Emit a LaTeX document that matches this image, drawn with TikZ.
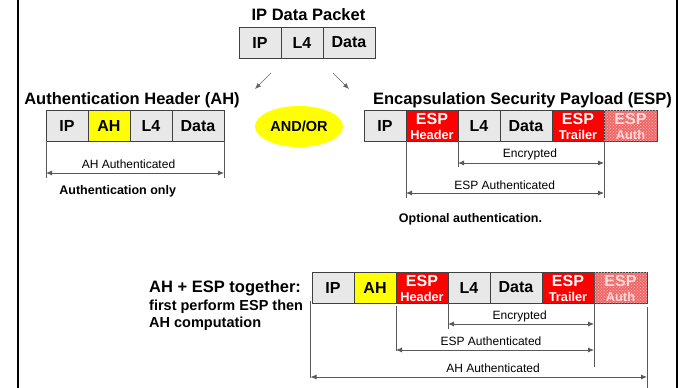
\documentclass[tikz,border=0pt]{standalone}
\usepackage{fontspec}
\setmainfont{Liberation Sans}
\usetikzlibrary{arrows.meta,patterns,shapes.geometric}
\definecolor{cellgray}{HTML}{E8E8E8}
\definecolor{edgegray}{HTML}{404040}
\definecolor{espred}{HTML}{FF0000}
\definecolor{authred}{HTML}{F06868}
\definecolor{authtxt}{HTML}{FFD8D8}
\definecolor{ahyellow}{HTML}{FFFF00}
\begin{document}
\begin{tikzpicture}[x=1pt,y=-1pt,
  cell/.style={draw=edgegray, line width=0.9pt, fill=cellgray, minimum height=31pt,
    inner sep=0pt, outer sep=0pt, anchor=west, font=\bfseries\fontsize{16}{17}\selectfont},
  ahcell/.style={cell, fill=ahyellow},
  redcell/.style={cell, fill=espred},
  authcell/.style={cell, fill=authred, postaction={pattern=crosshatch dots, pattern color=white!60!authred}},
  redtop/.style={anchor=base, inner sep=0pt, text=white, font=\bfseries\fontsize{16}{17}\selectfont},
  redbot/.style={anchor=base, inner sep=0pt, text=white, font=\bfseries\fontsize{12.8}{14}\selectfont},
  authtop/.style={redtop, text=authtxt},
  authbot/.style={redbot, text=authtxt},
  titletxt/.style={anchor=base, inner sep=0pt, font=\bfseries\fontsize{16.5}{18}\selectfont},
  notetxt/.style={anchor=base, inner sep=0pt, font=\bfseries\fontsize{12.5}{14}\selectfont},
  sidetxt/.style={anchor=base west, inner sep=0pt, font=\bfseries\fontsize{14.5}{16}\selectfont},
  labtxt/.style={anchor=base, inner sep=0pt, font=\fontsize{12}{14}\selectfont},
  brk/.style={draw=black!65, line width=0.8pt},
  dim/.style={brk, {Latex[length=6pt,width=5pt]}-{Latex[length=6pt,width=5pt]}},
  arr/.style={draw=black!60, line width=0.6pt, -{Latex[length=6pt,width=5pt]}}
]
\useasboundingbox (0,0) rectangle (680,388);
% frame lines
\draw[line width=2pt] (18,0) -- (18,388);
\draw[line width=2pt] (677,0) -- (677,388);

% ---- top packet
\node[titletxt] (ttl) at (308.5,20) {IP Data Packet};
\node[cell, minimum width=42pt] (tip) at (239,42.5) {IP};
\node[cell, minimum width=42pt] (tl4) at (281,42.5) {L4};
\node[cell, minimum width=52pt] (tdat) at (323,42.5) {Data};
\coordinate (a1s) at (271,73); \coordinate (a1e) at (255,89);
\coordinate (a2s) at (333,73); \coordinate (a2e) at (349,89);
\draw[arr] (a1s) -- (a1e);
\draw[arr] (a2s) -- (a2e);

% ---- AH
\node[titletxt] (ahttl) at (132,104.3) {Authentication Header (AH)};
\node[cell, minimum width=42pt] (aip) at (46,125.75) {IP};
\node[ahcell, minimum width=42pt] (aah) at (88,125.75) {AH};
\node[cell, minimum width=42pt] (al4) at (130,125.75) {L4};
\node[cell, minimum width=52pt] (adat) at (172,125.75) {Data};
\coordinate (ahl) at (46,178); \coordinate (ahr) at (224,178);
\draw[brk] (aip.south west) -- (ahl);
\draw[brk] (adat.south east) -- (ahr);
\coordinate (ahd1) at (46,173); \coordinate (ahd2) at (224,173);
\draw[dim] (ahd1) -- (ahd2);
\node[labtxt] (ahlab) at (128.5,168.3) {AH Authenticated};
\node[notetxt] (ahnote) at (117.7,194) {Authentication only};

% ---- AND/OR
\node[ellipse, fill=ahyellow, minimum width=88pt, minimum height=41pt, inner sep=0pt,
  font=\bfseries\fontsize{14.5}{16}\selectfont] (andor) at (299,126.5) {AND/OR};

% ---- ESP
\node[titletxt] (espttl) at (522.5,104.3) {Encapsulation Security Payload (ESP)};
\node[cell, minimum width=42pt] (eip) at (364,125.75) {IP};
\node[redcell, minimum width=52pt] (ehd) at (406,125.75) {};
\node[cell, minimum width=42pt] (el4) at (458,125.75) {L4};
\node[cell, minimum width=52pt] (edat) at (500,125.75) {Data};
\node[redcell, minimum width=52pt] (etr) at (552,125.75) {};
\node[authcell, minimum width=53pt] (eau) at (604,125.75) {};
\node[redtop] (ehdA) at ([yshift=16.5pt]ehd.south) {ESP};
\node[redbot] (ehdB) at ([yshift=1.8pt]ehd.south) {Header};
\node[redtop] (etrA) at ([yshift=16.5pt]etr.south) {ESP};
\node[redbot] (etrB) at ([yshift=1.8pt]etr.south) {Trailer};
\node[authtop] (eauA) at ([yshift=16.5pt]eau.south) {ESP};
\node[authbot] (eauB) at ([yshift=1.8pt]eau.south) {Auth};
% encrypted
\coordinate (een) at (458,167);
\draw[brk] (el4.south west) -- (een);
\coordinate (eed1) at (458,163); \coordinate (eed2) at (604,163);
\draw[dim] (eed1) -- (eed2);
\node[labtxt] (eelab) at (530,157.7) {Encrypted};
% esp authenticated
\coordinate (eal) at (406,198); \coordinate (ear) at (604,198);
\draw[brk] (ehd.south west) -- (eal);
\draw[brk] (etr.south east) -- (ear);
\coordinate (ead1) at (406,193); \coordinate (ead2) at (604,193);
\draw[dim] (ead1) -- (ead2);
\node[labtxt] (ealab) at (504.7,189.3) {ESP Authenticated};
\node[notetxt] (espnote) at (470.5,222.7) {Optional authentication.};

% ---- AH + ESP together
\node[sidetxt, font=\bfseries\fontsize{16.5}{18}\selectfont] (s1) at (149,292.3) {AH + ESP together:};
\node[sidetxt] (s2) at (149,310) {first perform ESP then};
\node[sidetxt] (s3) at (149,327.3) {AH computation};

\node[cell, minimum width=42pt] (bip) at (312,287.5) {IP};
\node[ahcell, minimum width=42pt] (bah) at (354,287.5) {AH};
\node[redcell, minimum width=52pt] (bhd) at (396,287.5) {};
\node[cell, minimum width=42pt] (bl4) at (448,287.5) {L4};
\node[cell, minimum width=52pt] (bdat) at (490,287.5) {Data};
\node[redcell, minimum width=52pt] (btr) at (542,287.5) {};
\node[authcell, minimum width=53pt] (bau) at (594,287.5) {};
\node[redtop] (bhdA) at ([yshift=17pt]bhd.south) {ESP};
\node[redbot] (bhdB) at ([yshift=1.8pt]bhd.south) {Header};
\node[redtop] (btrA) at ([yshift=17pt]btr.south) {ESP};
\node[redbot] (btrB) at ([yshift=1.8pt]btr.south) {Trailer};
\node[authtop] (bauA) at ([yshift=17pt]bau.south) {ESP};
\node[authbot] (bauB) at ([yshift=1.8pt]bau.south) {Auth};
% encrypted
\coordinate (ben) at (448,329);
\draw[brk] (bl4.south west) -- (ben);
\coordinate (bed1) at (448,324); \coordinate (bed2) at (594,324);
\draw[dim] (bed1) -- (bed2);
\node[labtxt] (belab) at (519.7,319.3) {Encrypted};
% esp authenticated
\coordinate (bal0) at (396,306); \coordinate (bal) at (396,351);
\coordinate (bar) at (594,367);
\draw[brk] (bal0) -- (bal);
\draw[brk] (btr.south east) -- (bar);
\coordinate (bad1) at (396,350); \coordinate (bad2) at (594,350);
\draw[dim] (bad1) -- (bad2);
\node[labtxt] (balab) at (491,345.3) {ESP Authenticated};
% ah authenticated
\coordinate (bhl0) at (310.5,301); \coordinate (bhl) at (310.5,378);
\coordinate (bhr0) at (647,307); \coordinate (bhr) at (647,388);
\draw[brk] (bhl0) -- (bhl);
\draw[brk] (bhr0) -- (bhr);
\coordinate (bhd1) at (310.5,377); \coordinate (bhd2) at (647,377);
\draw[dim] (bhd1) -- (bhd2);
\node[labtxt] (bhlab) at (493,372) {AH Authenticated};
\end{tikzpicture}
\end{document}
